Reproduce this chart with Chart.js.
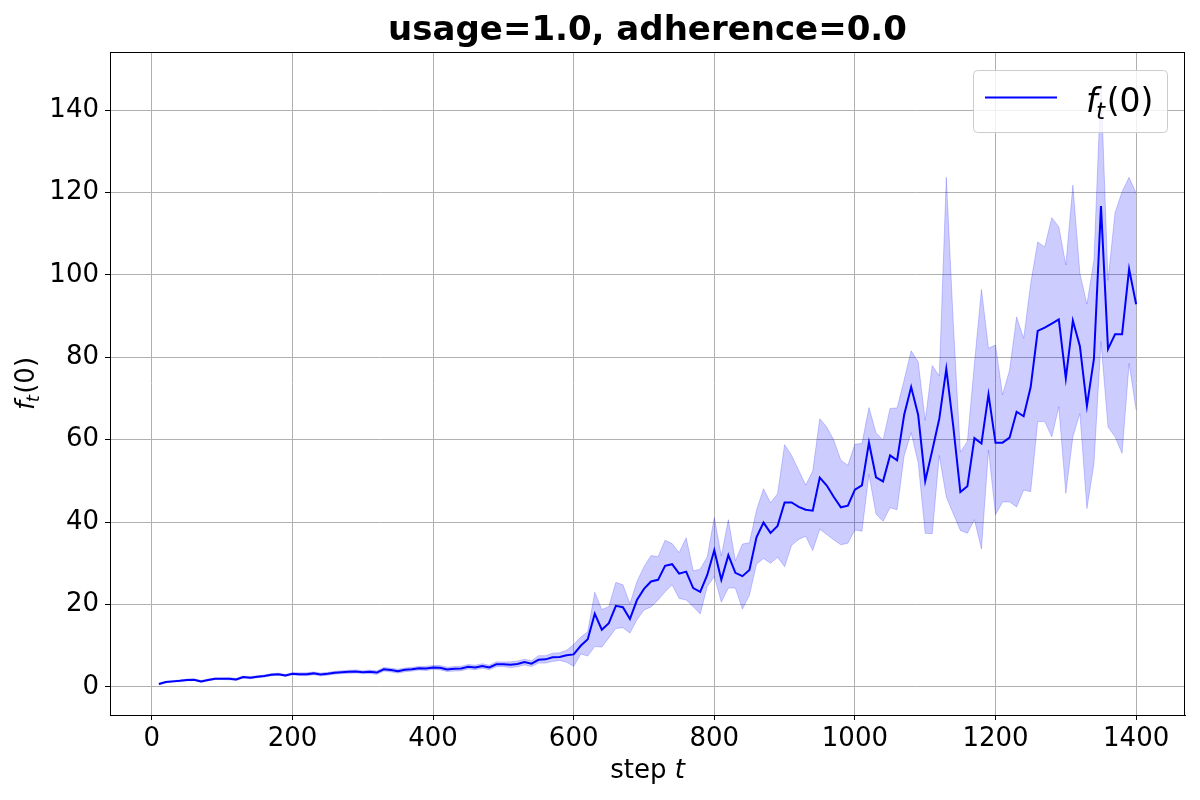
<!DOCTYPE html>
<html>
<head>
<meta charset="utf-8">
<script src="https://cdn.jsdelivr.net/npm/chart.js@4.4.1/dist/chart.umd.min.js"></script>
<style>
  body { margin: 0; background: #fff; }
  #wrap { width: 1200px; height: 800px; }
</style>
</head>
<body>
<div id="wrap"><canvas id="grafico" width="1200" height="800"></canvas></div>
<script>
// passos (eixo x)
const steps = [
  10, 20, 30, 40, 50, 60, 70, 80, 90, 100, 110, 120, 130, 140, 150, 160, 170, 180, 190, 200,
  210, 220, 230, 240, 250, 260, 270, 280, 290, 300, 310, 320, 330, 340, 350, 360, 370, 380, 390, 400,
  410, 420, 430, 440, 450, 460, 470, 480, 490, 500, 510, 520, 530, 540, 550, 560, 570, 580, 590, 600,
  610, 620, 630, 640, 650, 660, 670, 680, 690, 700, 710, 720, 730, 740, 750, 760, 770, 780, 790, 800,
  810, 820, 830, 840, 850, 860, 870, 880, 890, 900, 910, 920, 930, 940, 950, 960, 970, 980, 990, 1000,
  1010, 1020, 1030, 1040, 1050, 1060, 1070, 1080, 1090, 1100, 1110, 1120, 1130, 1140, 1150, 1160, 1170, 1180, 1190, 1200,
  1210, 1220, 1230, 1240, 1250, 1260, 1270, 1280, 1290, 1300, 1310, 1320, 1330, 1340, 1350, 1360, 1370, 1380, 1390, 1400
];

// média f_t(0)
const media = [
  0.72, 1.2, 1.36, 1.5, 1.7, 1.76, 1.36, 1.7, 2.0, 2.0, 2.0, 1.84, 2.4, 2.24, 2.5, 2.64, 2.96, 3.1, 2.8, 3.2,
  3.1, 3.1, 3.3, 3.04, 3.2, 3.44, 3.6, 3.68, 3.76, 3.6, 3.68, 3.5, 4.3, 4.1, 3.84, 4.16, 4.3, 4.56, 4.5, 4.75,
  4.68, 4.27, 4.4, 4.5, 4.9, 4.75, 5.1, 4.75, 5.5, 5.5, 5.4, 5.6, 6.05, 5.65, 6.6, 6.7, 7.2, 7.26, 7.7, 7.9,
  10.0, 11.6, 17.8, 13.9, 15.5, 19.7, 19.35, 16.5, 21.1, 23.8, 25.6, 26.0, 29.4, 29.8, 27.5, 28.0, 24.0, 23.1, 27.2, 33.2,
  26.0, 32.0, 27.7, 26.9, 28.4, 36.3, 39.9, 37.4, 39.1, 44.8, 44.8, 43.7, 43.0, 42.8, 50.8, 48.9, 46.1, 43.6, 44.0, 47.9,
  48.9, 59.3, 50.9, 49.9, 56.2, 55.0, 66.0, 72.8, 66.0, 50.0, 57.4, 65.1, 77.2, 63.1, 47.3, 48.7, 60.4, 59.1, 71.0, 59.3,
  59.3, 60.5, 66.8, 65.7, 72.8, 86.4, 87.2, 88.2, 89.2, 74.9, 88.9, 82.7, 68.2, 79.7, 116.7, 82.0, 85.6, 85.6, 101.4, 92.9
];

// limite inferior da faixa
const inferior = [
  0.55, 1.0, 1.17, 1.3, 1.5, 1.57, 1.12, 1.5, 1.8, 1.8, 1.75, 1.6, 2.15, 2.0, 2.25, 2.4, 2.7, 2.85, 2.55, 2.95,
  2.75, 2.75, 2.95, 2.7, 2.85, 3.1, 3.25, 3.3, 3.4, 3.25, 3.25, 3.05, 3.85, 3.65, 3.4, 3.7, 3.85, 4.1, 4.0, 4.3,
  4.15, 3.75, 3.85, 3.95, 4.35, 4.2, 4.55, 4.2, 4.9, 4.95, 4.7, 4.9, 5.35, 4.95, 5.8, 5.8, 6.2, 6.45, 6.0, 5.0,
  8.0, 7.5, 9.8, 9.7, 11.9, 14.2, 14.4, 13.1, 16.3, 18.7, 19.4, 21.1, 23.1, 24.8, 21.5, 21.1, 19.5, 17.7, 24.4, 26.8,
  20.6, 24.0, 24.0, 18.9, 22.3, 29.8, 31.2, 30.0, 31.5, 29.2, 34.4, 35.8, 36.6, 33.1, 38.3, 37.0, 35.7, 34.5, 34.9, 38.1,
  37.8, 51.6, 42.0, 40.2, 43.5, 43.0, 56.1, 61.7, 54.4, 37.3, 37.2, 56.2, 46.1, 42.0, 38.0, 37.3, 40.6, 33.5, 57.5, 41.8,
  44.9, 44.9, 43.7, 47.8, 47.4, 64.4, 64.4, 60.7, 68.0, 47.0, 60.7, 66.4, 43.3, 54.2, 83.8, 63.1, 60.7, 56.7, 78.5, 67.2
];

// limite superior da faixa
const superior = [
  0.9, 1.4, 1.55, 1.7, 1.9, 1.95, 1.6, 1.9, 2.2, 2.2, 2.25, 2.1, 2.65, 2.5, 2.75, 2.9, 3.25, 3.35, 3.05, 3.45,
  3.45, 3.45, 3.65, 3.4, 3.55, 3.8, 3.95, 4.05, 4.15, 3.95, 4.1, 3.95, 4.75, 4.55, 4.3, 4.6, 4.75, 5.0, 5.0, 5.2,
  5.2, 4.8, 4.95, 5.05, 5.45, 5.3, 5.65, 5.3, 6.1, 6.05, 6.1, 6.3, 6.75, 6.35, 7.6, 7.6, 8.2, 8.3, 8.9, 10.3,
  12.1, 13.4, 23.0, 18.8, 19.5, 25.4, 24.8, 20.2, 25.6, 29.2, 31.9, 31.6, 35.6, 34.8, 32.6, 36.2, 28.2, 28.6, 31.6, 41.1,
  31.8, 40.6, 30.6, 34.7, 35.0, 42.9, 48.1, 44.7, 46.9, 58.8, 56.2, 52.6, 49.0, 52.4, 65.1, 63.1, 59.9, 55.0, 53.8, 58.9,
  59.1, 67.8, 61.7, 59.9, 67.6, 67.7, 74.5, 81.6, 78.9, 64.7, 78.0, 75.5, 123.7, 88.0, 57.0, 59.6, 78.5, 96.5, 82.2, 83.0,
  70.9, 76.9, 89.8, 84.6, 97.9, 108.0, 106.8, 113.9, 111.7, 102.4, 121.8, 100.4, 92.9, 103.6, 146.5, 98.7, 115.1, 120.2, 123.7, 119.8
];

const xTicks = [0, 200, 400, 600, 800, 1000, 1200, 1400];
const yTicks = [0, 20, 40, 60, 80, 100, 120, 140];

const FONTE = 'DejaVu Sans';
const AZUL = '#0000ff';
const FAIXA = 'rgba(0, 0, 255, 0.2)';

// escreve f_t(0) com subscrito, como no mathtext
function desenharFt(ctx, x, y, size) {
  ctx.font = `italic ${size}px "${FONTE}"`;
  const wf = ctx.measureText('f').width;
  ctx.font = `italic ${size * 0.7}px "${FONTE}"`;
  const wt = ctx.measureText('t').width;
  ctx.font = `${size}px "${FONTE}"`;
  const wp = ctx.measureText('(0)').width;
  const total = wf + wt + wp;
  return {
    total,
    draw(x0) {
      ctx.textAlign = 'left';
      ctx.textBaseline = 'alphabetic';
      ctx.font = `italic ${size}px "${FONTE}"`;
      ctx.fillText('f', x0, y);
      ctx.font = `italic ${size * 0.7}px "${FONTE}"`;
      ctx.fillText('t', x0 + wf - size * 0.05, y + size * 0.2);
      ctx.font = `${size}px "${FONTE}"`;
      ctx.fillText('(0)', x0 + wf + wt, y);
    }
  };
}

const decoracao = {
  id: 'decoracao',
  afterDraw(chart) {
    const ctx = chart.ctx;
    const a = chart.chartArea;
    ctx.save();

    // moldura
    ctx.strokeStyle = '#000';
    ctx.lineWidth = 1;
    ctx.strokeRect(Math.round(a.left) + 0.5, Math.round(a.top) + 0.5,
      Math.round(a.right - a.left) - 1, Math.round(a.bottom - a.top));

    ctx.fillStyle = '#000';

    // titulo
    ctx.font = `bold 34px "${FONTE}"`;
    ctx.textAlign = 'center';
    ctx.textBaseline = 'alphabetic';
    ctx.fillText('usage=1.0, adherence=0.0', (a.left + a.right) / 2, 40);

    // eixo x: "step t"
    ctx.font = `26px "${FONTE}"`;
    const w1 = ctx.measureText('step ').width;
    ctx.font = `italic 26px "${FONTE}"`;
    const w2 = ctx.measureText('t').width;
    const x0 = (a.left + a.right) / 2 - (w1 + w2) / 2;
    ctx.textAlign = 'left';
    ctx.font = `26px "${FONTE}"`;
    ctx.fillText('step ', x0, 778);
    ctx.font = `italic 26px "${FONTE}"`;
    ctx.fillText('t', x0 + w1, 778);

    // eixo y: f_t(0) rotacionado
    ctx.save();
    ctx.translate(34, (a.top + a.bottom) / 2);
    ctx.rotate(-Math.PI / 2);
    const rot = desenharFt(ctx, 0, 0, 26);
    rot.draw(-rot.total / 2);
    ctx.restore();

    // legenda
    ctx.beginPath();
    ctx.roundRect(973.5, 70.5, 194, 62, 4);
    ctx.fillStyle = 'rgba(255, 255, 255, 0.8)';
    ctx.fill();
    ctx.strokeStyle = '#cccccc';
    ctx.stroke();
    ctx.beginPath();
    ctx.moveTo(985, 97.5);
    ctx.lineTo(1057, 97.5);
    ctx.strokeStyle = AZUL;
    ctx.lineWidth = 2;
    ctx.stroke();
    ctx.fillStyle = '#000';
    const leg = desenharFt(ctx, 0, 112, 33);
    leg.draw(1086);

    ctx.restore();
  }
};

const pontos = arr => steps.map((s, i) => ({ x: s, y: arr[i] }));

const eixoComum = {
  grid: { color: '#b0b0b0', lineWidth: 1, tickColor: '#000', tickLength: 5 },
  border: { display: true, color: '#000', width: 1 },
  ticks: { color: '#000', font: { family: FONTE, size: 26 }, callback: v => String(v) }
};

new Chart(document.getElementById('grafico').getContext('2d'), {
  type: 'line',
  data: {
    datasets: [
      {
        label: 'inferior',
        data: pontos(inferior),
        borderColor: FAIXA,
        borderWidth: 1,
        pointRadius: 0,
        fill: false
      },
      {
        label: 'superior',
        data: pontos(superior),
        borderColor: FAIXA,
        borderWidth: 1,
        pointRadius: 0,
        backgroundColor: FAIXA,
        fill: '-1'
      },
      {
        label: 'f_t(0)',
        data: pontos(media),
        borderColor: AZUL,
        borderWidth: 2,
        pointRadius: 0,
        fill: false
      }
    ]
  },
  options: {
    responsive: false,
    animation: false,
    devicePixelRatio: 1,
    layout: { padding: { top: 52, right: 15, left: 0, bottom: 0 } },
    plugins: {
      legend: { display: false },
      title: { display: false },
      tooltip: { enabled: false }
    },
    elements: { line: { tension: 0 } },
    scales: {
      x: {
        ...eixoComum,
        type: 'linear',
        min: -59.5,
        max: 1469.5,
        ticks: { ...eixoComum.ticks, padding: 4, maxRotation: 0 },
        afterBuildTicks: scale => { scale.ticks = xTicks.map(v => ({ value: v })); },
        afterFit: scale => { scale.height = 85; }
      },
      y: {
        ...eixoComum,
        type: 'linear',
        min: -6.8,
        max: 154.1,
        ticks: { ...eixoComum.ticks, padding: 6 },
        afterBuildTicks: scale => { scale.ticks = yTicks.map(v => ({ value: v })); },
        afterFit: scale => { scale.width = 110; }
      }
    }
  },
  plugins: [decoracao]
});
</script>
</body>
</html>
